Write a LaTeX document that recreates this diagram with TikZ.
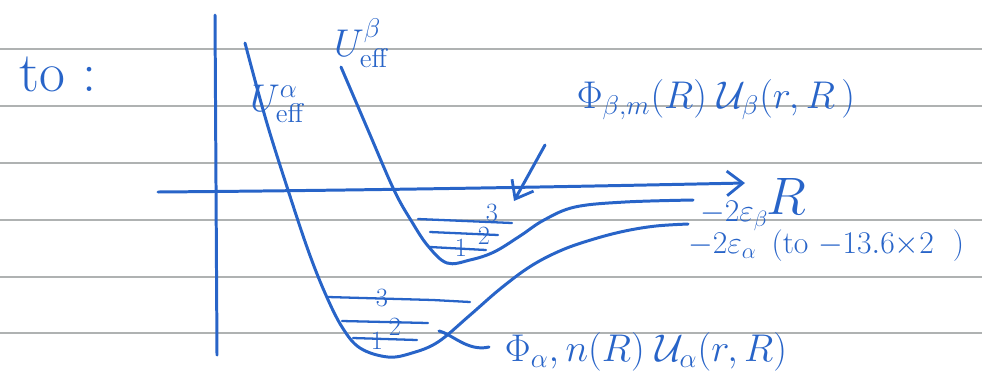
\RequirePackage{fix-cm}
\documentclass[tikz,border=0pt]{standalone}
\usepackage{amsmath}
\usetikzlibrary{arrows.meta}
\definecolor{pen}{RGB}{40,100,200}
\definecolor{ruling}{RGB}{175,178,178}
\tikzset{
  penline/.style={draw=pen, line width=1.7pt, line cap=round, line join=round},
  rulingline/.style={draw=ruling, line width=0.9pt},
  lab/.style={text=pen, inner sep=0pt},
  big/.style={lab, font=\fontsize{22}{26}\selectfont},
  mid/.style={lab, font=\fontsize{18}{22}\selectfont},
  small/.style={lab, font=\fontsize{15}{17}\selectfont},
  arrowhead/.style={-{Straight Barb[length=9pt,width=14pt,line width=1.6pt]}}
}
\begin{document}
\begin{tikzpicture}[x=0.02cm,y=-0.02cm]
\useasboundingbox (0,0) rectangle (982,386);
% ruled paper
\foreach \yy in {49,106,163,220,277,333}
  \draw[rulingline] (0,\yy) -- (982,\yy);
% axes
\coordinate (vtop) at (215,15);
\coordinate (vbot) at (217,355);
\draw[penline] (vtop) -- (vbot);
\coordinate (hleft) at (158,192);
\coordinate (hright) at (745,183);
\draw[penline, arrowhead] (hleft) .. controls (400,190) and (600,186) .. (hright);
\node[lab, font=\fontsize{30}{34}\selectfont] (Rlab) at (786,196) {$R$};
% title
\node[lab, font=\fontsize{32}{36}\selectfont] (title) at (58,74) {to :};
% U_eff^alpha curve
\draw[penline] plot[smooth, tension=0.6] coordinates {
  (245,43) (266,120) (288,190) (308,250) (325,293) (342,327) (360,348) (388,357)
  (412,353) (438,342) (469,316) (500,289) (531,266) (562,250) (594,239)
  (625,231) (656,226) (688,224)};
% U_eff^beta curve
\draw[penline] plot[smooth, tension=0.6] coordinates {
  (341,67) (368,130) (394,190) (412,222) (428,246) (447,263) (470,260)
  (494,252) (520,236) (544,220) (575,207) (625,202) (693,200)};
% curve labels
\node[big] (Ua) at (278,104) {$U^{\alpha}_{\mathrm{eff}}$};
\node[big] (Ub) at (362,43) {$U^{\beta}_{\mathrm{eff}}$};
% beta levels
\draw[penline, line width=1.3pt] (418,219) -- (512,223);
\draw[penline, line width=1.3pt] (430,232) -- (498,235);
\draw[penline, line width=1.3pt] (430,247) -- (486,250);
\node[small] (b3) at (492,213) {3};
\node[small] (b2) at (484,236) {2};
\node[small] (b1) at (461,248) {1};
% alpha levels
\draw[penline, line width=1.3pt] (328,297) -- (433,300) -- (470,302);
\draw[penline, line width=1.3pt] (342,321) -- (428,323);
\draw[penline, line width=1.3pt] (353,338) -- (417,340);
\node[small] (a3) at (382,298) {3};
\node[small] (a2) at (395,327) {2};
\node[small] (a1) at (377,341) {1};
% energy labels
\node[mid, anchor=west] (eb) at (700,216) {$-2\varepsilon_{\beta}$};
\node[lab, font=\fontsize{18}{21}\selectfont, anchor=west] (ea) at (688,246) {$-2\varepsilon_{\alpha}\ \,(\text{to}\ {-13.6{\times}2}\ \ )$};
% wavefunction labels
\node[big] (phib) at (716,100) {$\Phi_{\beta,m}(R)\;\mathcal{U}_{\beta}(r,R\,)$};
\node[big] (phia) at (646,352) {$\Phi_{\alpha},n(R)\;\mathcal{U}_{\alpha}(r,R)$};
% pointer to beta well
\coordinate (pbs) at (545,145);
\coordinate (pbe) at (514,201);
\draw[penline, arrowhead] (pbs) -- (pbe);
% hook to alpha well
\coordinate (pas) at (439,331);
\coordinate (pae) at (489,347);
\draw[penline] (pas) .. controls (452,334) and (468,352) .. (pae);
\end{tikzpicture}
\end{document}
